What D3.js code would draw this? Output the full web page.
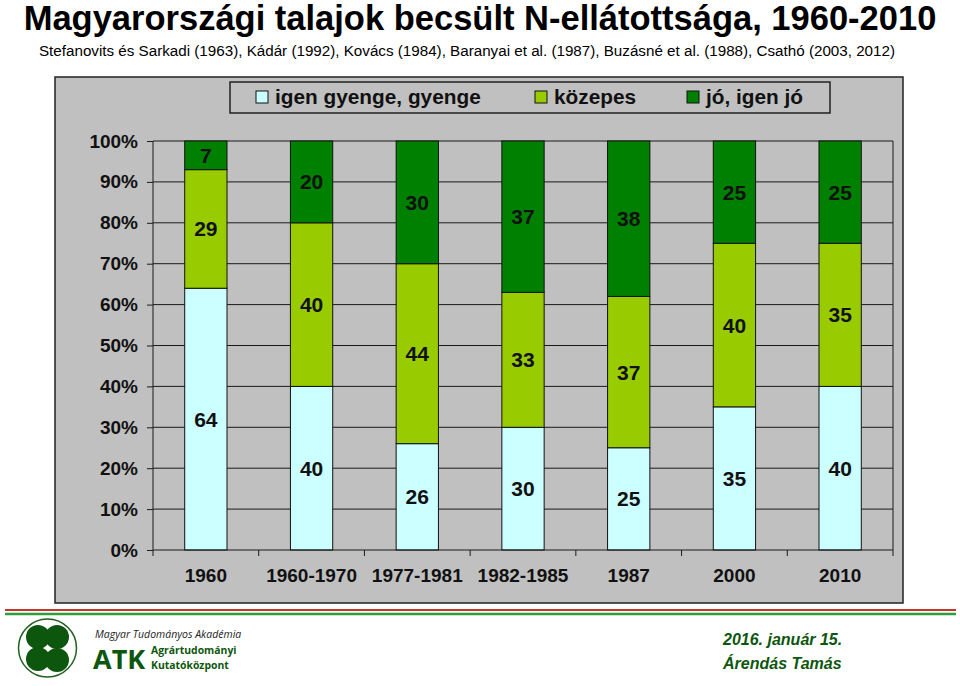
<!DOCTYPE html>
<html>
<head>
<meta charset="utf-8">
<script src="https://cdn.jsdelivr.net/npm/d3@7"></script>
<style>
  html, body { margin: 0; padding: 0; background: #fff; }
  svg { display: block; }
</style>
</head>
<body>
<svg id="chart" width="960" height="686"></svg>
<script>
const categories = ["1960", "1960-1970", "1977-1981", "1982-1985", "1987", "2000", "2010"];
const seriesNames = ["igen gyenge, gyenge", "közepes", "jó, igen jó"];
const weak = [64, 40, 26, 30, 25, 35, 40];
const medium = [29, 40, 44, 33, 37, 40, 35];
const good = [7, 20, 30, 37, 38, 25, 25];
const yTicks = [0, 10, 20, 30, 40, 50, 60, 70, 80, 90, 100];
const colors = ["#CCFFFF", "#99CC00", "#008000"];

const svg = d3.select("#chart");
const font = "Arial, 'Liberation Sans', Helvetica, sans-serif";
const logoFont = "'Open Sans', 'DejaVu Sans', sans-serif";

// Title
svg.append("text").attr("x", 480).attr("y", 30).attr("text-anchor", "middle")
  .attr("font-family", font).attr("font-weight", "bold").attr("font-size", 34.5)
  .text("Magyarországi talajok becsült N-ellátottsága, 1960-2010");
svg.append("text").attr("x", 467).attr("y", 56).attr("text-anchor", "middle")
  .attr("font-family", font).attr("font-size", 15.2)
  .text("Stefanovits és Sarkadi (1963), Kádár (1992), Kovács (1984), Baranyai et al. (1987), Buzásné et al. (1988), Csathó (2003, 2012)");

// Panel
svg.append("rect").attr("x", 55).attr("y", 77).attr("width", 848).attr("height", 526)
  .attr("fill", "#C0C0C0").attr("stroke", "#222").attr("stroke-width", 1.5);

const plot = { left: 153, right: 893, top: 141, bottom: 550 };
const x = d3.scaleBand().domain(categories).range([plot.left, plot.right]).paddingInner(0.6).paddingOuter(0.3);
const xOuter = d3.scaleBand().domain(categories).range([plot.left, plot.right]);
const y = d3.scaleLinear().domain([0, 100]).range([plot.bottom, plot.top]);

// Gridlines
svg.append("g").selectAll("line").data(yTicks.filter(d => d > 0)).join("line")
  .attr("x1", plot.left).attr("x2", plot.right)
  .attr("y1", d => y(d)).attr("y2", d => y(d))
  .attr("stroke", "#1a1a1a").attr("stroke-width", 1);
svg.append("line").attr("x1", plot.right).attr("x2", plot.right)
  .attr("y1", plot.top).attr("y2", plot.bottom).attr("stroke", "#1a1a1a").attr("stroke-width", 1);

// Stacked bars
const rows = categories.map((c, i) => ({ cat: c, weak: weak[i], medium: medium[i], good: good[i] }));
const stack = d3.stack().keys(["weak", "medium", "good"])(rows);
const gBars = svg.append("g");
stack.forEach((layer, li) => {
  gBars.append("g").selectAll("rect").data(layer).join("rect")
    .attr("x", d => x(d.data.cat))
    .attr("width", x.bandwidth())
    .attr("y", d => y(d[1]))
    .attr("height", d => y(d[0]) - y(d[1]))
    .attr("fill", colors[li])
    .attr("stroke", "#111").attr("stroke-width", 1);
});
stack.forEach((layer, li) => {
  gBars.append("g").selectAll("text").data(layer).join("text")
    .attr("x", d => x(d.data.cat) + x.bandwidth() / 2)
    .attr("y", d => y((d[0] + d[1]) / 2))
    .attr("dy", "0.36em")
    .attr("text-anchor", "middle")
    .attr("font-family", font).attr("font-weight", "bold").attr("font-size", 21)
    .attr("fill", "#111")
    .text(d => d[1] - d[0]);
});

// Y axis
const yAxis = d3.axisLeft(y).tickValues(yTicks).tickSize(6).tickFormat(d => d + "%");
const gy = svg.append("g").attr("transform", `translate(${plot.left},0)`).call(yAxis);
gy.select(".domain").attr("stroke", "#1a1a1a").attr("d", `M0,${plot.top}V${plot.bottom}`);
gy.selectAll(".tick line").attr("stroke", "#1a1a1a");
gy.selectAll(".tick text").attr("font-family", font).attr("font-weight", "bold")
  .attr("font-size", 19).attr("fill", "#111").attr("x", -15);

// X axis
const gx = svg.append("g").attr("transform", `translate(0,${plot.bottom})`)
  .call(d3.axisBottom(x).tickSize(0).tickPadding(19));
gx.select(".domain").attr("stroke", "#1a1a1a").attr("d", `M${plot.left},0H${plot.right}`);
gx.selectAll(".tick text").attr("font-family", font).attr("font-weight", "bold")
  .attr("font-size", 19).attr("fill", "#111");
// category separator ticks
svg.append("g").selectAll("line").data(categories.concat(["__end"])).join("line")
  .attr("x1", (d, i) => i < categories.length ? xOuter(d) : plot.right)
  .attr("x2", (d, i) => i < categories.length ? xOuter(d) : plot.right)
  .attr("y1", plot.bottom).attr("y2", plot.bottom + 6)
  .attr("stroke", "#1a1a1a");

// Legend
svg.append("rect").attr("x", 230).attr("y", 82).attr("width", 600).attr("height", 31)
  .attr("fill", "#C0C0C0").attr("stroke", "#222").attr("stroke-width", 1.5);
const legX = [256, 535, 687];
seriesNames.forEach((n, i) => {
  svg.append("rect").attr("x", legX[i]).attr("y", 91).attr("width", 12).attr("height", 12)
    .attr("fill", colors[i]).attr("stroke", "#111");
  svg.append("text").attr("x", legX[i] + 19).attr("y", 104)
    .attr("font-family", font).attr("font-weight", "bold").attr("font-size", 20.8)
    .attr("fill", "#111").text(n);
});

// Footer stripes
svg.append("line").attr("x1", 5).attr("x2", 956).attr("y1", 610).attr("y2", 610)
  .attr("stroke", "#C0392B").attr("stroke-width", 2);
svg.append("line").attr("x1", 5).attr("x2", 956).attr("y1", 614).attr("y2", 614)
  .attr("stroke", "#2E9E3A").attr("stroke-width", 2.5);

// Logo
const lg = svg.append("g");
lg.append("circle").attr("cx", 47.5).attr("cy", 648).attr("r", 29)
  .attr("fill", "#fff").attr("stroke", "#1f5f1f").attr("stroke-width", 1.5);
[[38, 637], [57, 637], [38, 659], [57, 660]].forEach(p => {
  lg.append("circle").attr("cx", p[0]).attr("cy", p[1]).attr("r", 12)
    .attr("fill", "#0d560d");
});
svg.append("text").attr("x", 95).attr("y", 638)
  .attr("font-family", logoFont).attr("font-style", "italic")
  .attr("font-size", 10.5).attr("fill", "#222").text("Magyar Tudományos Akadémia");
svg.append("text").attr("x", 93).attr("y", 669)
  .attr("font-family", logoFont).attr("font-weight", "bold")
  .attr("font-size", 27).attr("fill", "#0d560d").text("ATK");
svg.append("text").attr("x", 151).attr("y", 654)
  .attr("font-family", logoFont).attr("font-weight", "bold")
  .attr("font-size", 10.4).attr("fill", "#0d560d").text("Agrártudományi");
svg.append("text").attr("x", 151).attr("y", 668.5)
  .attr("font-family", logoFont).attr("font-weight", "bold")
  .attr("font-size", 10.4).attr("fill", "#0d560d").text("Kutatóközpont");

// Right footer
svg.append("text").attr("x", 723).attr("y", 645)
  .attr("font-family", font).attr("font-weight", "bold").attr("font-style", "italic")
  .attr("font-size", 16).attr("fill", "#0d560d").text("2016. január 15.");
svg.append("text").attr("x", 723).attr("y", 669)
  .attr("font-family", font).attr("font-weight", "bold").attr("font-style", "italic")
  .attr("font-size", 16).attr("fill", "#0d560d").text("Árendás Tamás");
</script>
</body>
</html>
